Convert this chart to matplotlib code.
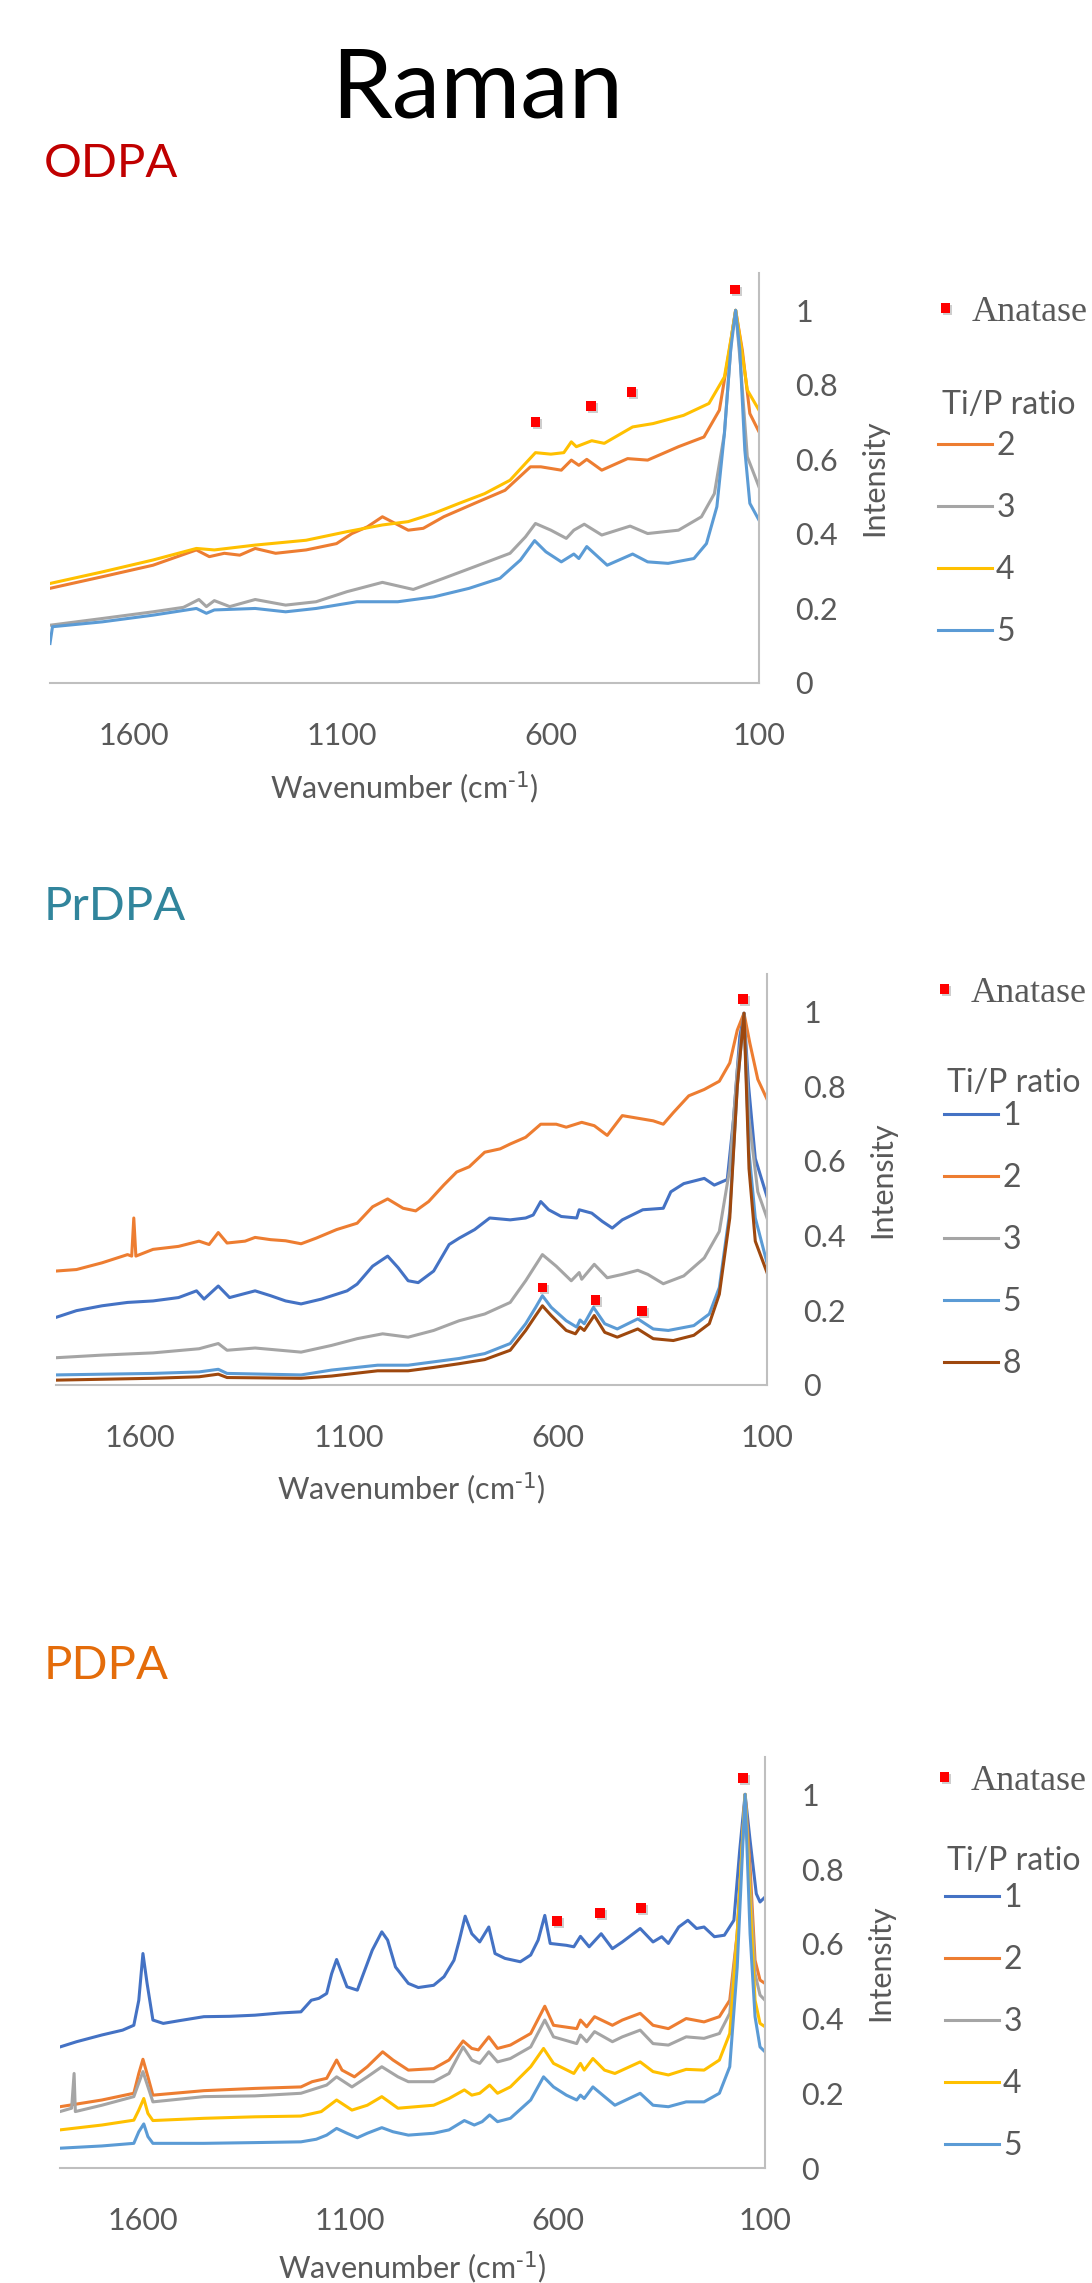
import matplotlib
matplotlib.use("Agg")
import matplotlib.pyplot as plt
import matplotlib.patheffects as pe

# ---------------- data ----------------
# x = Raman shift (cm-1), y = normalised intensity

# ODPA, Ti/P ratio 2, 3, 4, 5
odpa_2_wn = [1800, 1675, 1553, 1449, 1418, 1382, 1345, 1308, 1259, 1186, 1113, 1076, 1039, 1003, 972, 941, 905, 856,
             782, 709, 648, 623, 574, 550, 532, 513, 477, 415, 367, 293, 232, 195, 171, 156, 140, 122, 100]
odpa_2_int = [0.254, 0.285, 0.316, 0.357, 0.339, 0.348, 0.343, 0.361, 0.348, 0.357, 0.374, 0.401, 0.419, 0.446, 0.428,
              0.410, 0.415, 0.446, 0.482, 0.517, 0.580, 0.580, 0.571, 0.598, 0.584, 0.600, 0.571, 0.602, 0.598, 0.634,
              0.660, 0.732, 0.893, 1.0, 0.893, 0.723, 0.674]
odpa_3_wn = [1800, 1675, 1553, 1480, 1443, 1425, 1406, 1369, 1308, 1235, 1162, 1088, 1003, 929, 856, 782, 697, 660,
             636, 599, 562, 544, 519, 477, 409, 367, 293, 238, 207, 183, 165, 156, 144, 128, 100]
odpa_3_int = [0.155, 0.173, 0.191, 0.203, 0.224, 0.205, 0.221, 0.205, 0.224, 0.209, 0.218, 0.245, 0.270, 0.251, 0.281,
              0.312, 0.348, 0.392, 0.428, 0.410, 0.388, 0.410, 0.426, 0.397, 0.421, 0.401, 0.410, 0.446, 0.508, 0.669,
              0.937, 1.0, 0.848, 0.607, 0.526]
odpa_4_wn = [1800, 1675, 1553, 1449, 1406, 1308, 1186, 1088, 1003, 941, 880, 819, 758, 697, 660, 636, 599, 568, 550,
             538, 501, 471, 403, 354, 281, 220, 183, 165, 156, 146, 128, 100]
odpa_4_int = [0.267, 0.298, 0.330, 0.361, 0.357, 0.370, 0.383, 0.406, 0.424, 0.433, 0.455, 0.482, 0.508, 0.544, 0.589,
              0.618, 0.614, 0.618, 0.647, 0.634, 0.650, 0.643, 0.687, 0.696, 0.718, 0.750, 0.821, 0.937, 1.0, 0.929,
              0.786, 0.732]
odpa_5_wn = [1800, 1794, 1675, 1553, 1449, 1425, 1406, 1308, 1235, 1162, 1064, 966, 880, 795, 721, 672, 638, 611, 574,
             544, 532, 513, 464, 403, 367, 318, 256, 226, 201, 183, 168, 156, 146, 134, 122, 100]
odpa_5_int = [0.106, 0.151, 0.164, 0.182, 0.200, 0.187, 0.196, 0.200, 0.191, 0.200, 0.218, 0.218, 0.231, 0.254, 0.281,
              0.330, 0.382, 0.352, 0.325, 0.346, 0.334, 0.366, 0.316, 0.346, 0.325, 0.321, 0.334, 0.374, 0.473, 0.669,
              0.893, 1.0, 0.893, 0.625, 0.482, 0.437]
odpa_anatase_wn = [636, 503, 406, 157]
odpa_anatase_int = [0.70, 0.744, 0.781, 1.056]

# PrDPA, Ti/P ratio 1, 2, 3, 5, 8
prdpa_1_wn = [1800, 1751, 1690, 1629, 1568, 1507, 1464, 1446, 1412, 1385, 1324, 1287, 1251, 1214, 1165, 1104, 1080,
              1043, 1007, 982, 958, 934, 897, 860, 836, 799, 763, 714, 677, 659, 641, 622, 592, 555, 549, 519, 494,
              470, 446, 397, 348, 330, 299, 250, 226, 195, 180, 165, 155, 144, 128, 100]
prdpa_1_int = [0.181, 0.199, 0.212, 0.221, 0.225, 0.234, 0.252, 0.230, 0.265, 0.234, 0.252, 0.239, 0.225, 0.217, 0.230,
               0.252, 0.270, 0.318, 0.345, 0.314, 0.279, 0.274, 0.305, 0.376, 0.393, 0.416, 0.447, 0.442, 0.447, 0.455,
               0.491, 0.469, 0.451, 0.447, 0.469, 0.460, 0.438, 0.420, 0.442, 0.469, 0.473, 0.517, 0.539, 0.553, 0.535,
               0.550, 0.712, 0.933, 0.995, 0.800, 0.606, 0.504]
prdpa_2_wn = [1800, 1751, 1690, 1629, 1619, 1614, 1609, 1568, 1507, 1458, 1434, 1412, 1391, 1348, 1324, 1287, 1251,
              1214, 1178, 1129, 1080, 1043, 1007, 970, 940, 909, 873, 842, 812, 775, 738, 714, 677, 641, 604, 580, 543,
              513, 482, 446, 409, 372, 348, 324, 287, 250, 214, 189, 171, 155, 141, 122, 100]
prdpa_2_int = [0.305, 0.309, 0.327, 0.349, 0.345, 0.447, 0.345, 0.363, 0.371, 0.385, 0.376, 0.408, 0.380, 0.385, 0.395,
               0.389, 0.386, 0.378, 0.393, 0.416, 0.433, 0.477, 0.498, 0.473, 0.466, 0.491, 0.535, 0.570, 0.584, 0.623,
               0.632, 0.645, 0.663, 0.698, 0.698, 0.690, 0.703, 0.694, 0.668, 0.721, 0.714, 0.707, 0.698, 0.729, 0.774,
               0.791, 0.813, 0.862, 0.950, 0.995, 0.915, 0.818, 0.765]
prdpa_3_wn = [1800, 1690, 1568, 1458, 1412, 1391, 1324, 1214, 1141, 1080, 1019, 958, 897, 836, 775, 714, 677, 637, 604,
              568, 549, 543, 513, 482, 446, 409, 385, 348, 299, 250, 214, 189, 171, 155, 143, 122, 100]
prdpa_3_int = [0.073, 0.080, 0.086, 0.097, 0.111, 0.093, 0.099, 0.088, 0.106, 0.124, 0.137, 0.128, 0.146, 0.172, 0.190,
               0.221, 0.279, 0.349, 0.318, 0.279, 0.301, 0.283, 0.323, 0.287, 0.296, 0.307, 0.296, 0.271, 0.292, 0.340,
               0.411, 0.579, 0.844, 0.995, 0.712, 0.517, 0.447]
prdpa_5_wn = [1800, 1568, 1458, 1412, 1391, 1214, 1141, 1031, 958, 897, 836, 775, 714, 677, 653, 637, 616, 580, 555,
              547, 537, 515, 488, 458, 409, 372, 336, 275, 238, 214, 189, 171, 155, 143, 128, 100]
prdpa_5_int = [0.027, 0.031, 0.035, 0.042, 0.031, 0.027, 0.040, 0.053, 0.053, 0.062, 0.071, 0.084, 0.111, 0.164, 0.208,
               0.239, 0.208, 0.172, 0.155, 0.174, 0.164, 0.208, 0.164, 0.150, 0.177, 0.150, 0.146, 0.159, 0.190, 0.261,
               0.464, 0.800, 0.995, 0.623, 0.447, 0.327]
prdpa_8_wn = [1800, 1568, 1458, 1412, 1391, 1214, 1141, 1031, 958, 897, 836, 775, 714, 677, 653, 637, 616, 580, 558,
              547, 537, 513, 488, 458, 409, 372, 324, 275, 238, 214, 189, 171, 155, 143, 128, 100]
prdpa_8_int = [0.013, 0.018, 0.022, 0.029, 0.020, 0.018, 0.024, 0.038, 0.038, 0.047, 0.057, 0.068, 0.093, 0.146, 0.186,
               0.212, 0.186, 0.146, 0.137, 0.155, 0.146, 0.186, 0.141, 0.128, 0.150, 0.124, 0.119, 0.133, 0.164, 0.243,
               0.447, 0.800, 0.995, 0.579, 0.385, 0.301]
prdpa_anatase_wn = [637, 510, 399, 158]
prdpa_anatase_int = [0.261, 0.228, 0.199, 1.034]

# PDPA, Ti/P ratio 1, 2, 3, 4, 5
pdpa_1_wn = [1800, 1760, 1699, 1649, 1622, 1610, 1600, 1590, 1576, 1551, 1514, 1453, 1391, 1330, 1268, 1219, 1194,
             1176, 1157, 1145, 1133, 1120, 1108, 1083, 1071, 1047, 1024, 1010, 991, 960, 936, 899, 874, 850, 837, 823,
             807, 788, 766, 751, 727, 690, 665, 647, 631, 618, 579, 561, 545, 524, 495, 468, 444, 401, 370, 349, 333,
             308, 286, 265, 247, 222, 198, 175, 161, 148, 136, 121, 112, 100]
pdpa_1_int = [0.324, 0.338, 0.356, 0.369, 0.382, 0.449, 0.574, 0.494, 0.396, 0.387, 0.394, 0.405, 0.406, 0.409, 0.415,
              0.418, 0.449, 0.454, 0.467, 0.520, 0.558, 0.520, 0.485, 0.476, 0.512, 0.583, 0.632, 0.610, 0.538, 0.494,
              0.483, 0.489, 0.512, 0.556, 0.610, 0.674, 0.627, 0.605, 0.645, 0.574, 0.561, 0.552, 0.570, 0.610, 0.676,
              0.601, 0.596, 0.592, 0.620, 0.592, 0.627, 0.587, 0.605, 0.641, 0.605, 0.619, 0.601, 0.645, 0.663, 0.641,
              0.645, 0.619, 0.623, 0.663, 0.850, 1.0, 0.877, 0.734, 0.712, 0.725]
pdpa_2_wn = [1800, 1699, 1622, 1610, 1600, 1588, 1576, 1453, 1330, 1219, 1192, 1157, 1133, 1120, 1090, 1059, 1022, 997,
             960, 899, 862, 828, 807, 791, 766, 745, 714, 665, 631, 610, 554, 545, 530, 511, 468, 444, 401, 370, 333,
             290, 247, 210, 185, 167, 148, 136, 124, 112, 100]
pdpa_2_int = [0.164, 0.182, 0.200, 0.253, 0.291, 0.244, 0.195, 0.207, 0.213, 0.217, 0.231, 0.240, 0.289, 0.262, 0.244,
              0.271, 0.311, 0.289, 0.262, 0.266, 0.289, 0.340, 0.320, 0.316, 0.351, 0.320, 0.329, 0.360, 0.433, 0.382,
              0.373, 0.396, 0.378, 0.405, 0.382, 0.396, 0.414, 0.382, 0.373, 0.400, 0.391, 0.405, 0.449, 0.627, 1.0,
              0.806, 0.556, 0.503, 0.494]
pdpa_3_wn = [1800, 1772, 1766, 1763, 1699, 1622, 1600, 1576, 1453, 1330, 1219, 1157, 1133, 1096, 1059, 1024, 985, 960,
             899, 862, 828, 807, 788, 766, 745, 714, 665, 631, 610, 554, 545, 530, 511, 468, 444, 401, 370, 333, 290,
             247, 210, 185, 167, 148, 136, 124, 112, 100]
pdpa_3_int = [0.151, 0.160, 0.253, 0.151, 0.168, 0.191, 0.258, 0.177, 0.191, 0.193, 0.200, 0.222, 0.244, 0.217, 0.244,
              0.271, 0.244, 0.231, 0.231, 0.253, 0.324, 0.289, 0.280, 0.311, 0.284, 0.293, 0.324, 0.396, 0.351, 0.333,
              0.356, 0.338, 0.365, 0.338, 0.351, 0.369, 0.333, 0.329, 0.351, 0.347, 0.360, 0.414, 0.627, 1.0, 0.761,
              0.520, 0.463, 0.449]
pdpa_4_wn = [1800, 1699, 1622, 1610, 1598, 1588, 1576, 1453, 1330, 1219, 1170, 1133, 1096, 1059, 1024, 985, 899, 862,
             825, 807, 788, 764, 745, 714, 665, 634, 610, 561, 545, 536, 515, 487, 462, 401, 370, 333, 290, 247, 210,
             185, 167, 148, 136, 124, 112, 100]
pdpa_4_int = [0.102, 0.115, 0.128, 0.155, 0.186, 0.146, 0.127, 0.133, 0.137, 0.139, 0.151, 0.182, 0.155, 0.168, 0.191,
              0.160, 0.168, 0.186, 0.209, 0.195, 0.200, 0.222, 0.200, 0.217, 0.271, 0.320, 0.280, 0.253, 0.280, 0.262,
              0.293, 0.262, 0.253, 0.284, 0.258, 0.249, 0.264, 0.262, 0.289, 0.360, 0.627, 1.0, 0.717, 0.449, 0.387,
              0.378]
pdpa_5_wn = [1800, 1699, 1622, 1610, 1598, 1588, 1576, 1453, 1330, 1219, 1182, 1157, 1133, 1108, 1083, 1059, 1024, 997,
             960, 899, 862, 825, 801, 782, 764, 745, 714, 665, 634, 610, 579, 554, 545, 536, 515, 487, 462, 401, 370,
             333, 290, 247, 210, 185, 167, 148, 136, 124, 112, 100]
pdpa_5_int = [0.053, 0.059, 0.066, 0.097, 0.118, 0.084, 0.066, 0.066, 0.068, 0.070, 0.077, 0.088, 0.106, 0.093, 0.081,
              0.093, 0.108, 0.097, 0.088, 0.093, 0.102, 0.127, 0.115, 0.124, 0.142, 0.124, 0.133, 0.182, 0.244, 0.217,
              0.195, 0.182, 0.195, 0.186, 0.217, 0.191, 0.168, 0.200, 0.168, 0.164, 0.177, 0.177, 0.200, 0.271, 0.538,
              1.0, 0.627, 0.405, 0.324, 0.311]
pdpa_anatase_wn = [601, 498, 399, 153]
pdpa_anatase_int = [0.661, 0.683, 0.696, 1.044]

x_ticks = [1600, 1100, 600, 100]
y_ticks = [0, 0.2, 0.4, 0.6, 0.8, 1]
y_tick_labels = ['0', '0.2', '0.4', '0.6', '0.8', '1']

# ---------------- style ----------------
W, H = 1092, 2283
TXT = '#595959'
AXC = '#BFBFBF'
ratio_colors = {'1': '#4472C4', '2': '#ED7D31', '3': '#A5A5A5', '4': '#FFC000', '5': '#5B9BD5', '8': '#9E480E'}

plt.rcParams['font.family'] = ['Lato', 'DejaVu Sans']
plt.rcParams['mathtext.default'] = 'regular'

fig = plt.figure(figsize=(W / 100, H / 100), dpi=100)


def fx(x):
    return x / W


def fy(y):
    return 1 - y / H


def draw_panel(box, series, anatase, name, name_color, name_base, anatase_xy, ratio_base, ratio_x, entries_x,
               entries_mid, xlab_base):
    left, top, right, bottom = box
    ax = fig.add_axes([fx(left), fy(bottom), (right - left) / W, (bottom - top) / H])

    lines = []
    for lab, wn, inten in series:
        ln, = ax.plot(wn, inten, color=ratio_colors[lab], lw=2.2, label=lab, solid_joinstyle='round')
        lines.append(ln)

    # anatase reference peaks
    shadow = [pe.SimplePatchShadow(offset=(1.5, -1.5), shadow_rgbFace='0.45', alpha=0.35), pe.Normal()]
    mk, = ax.plot(anatase[0], anatase[1], 's', color='#FF0000', ms=7, mew=0, label='Anatase',
                  path_effects=shadow, clip_on=False, zorder=5)

    ax.set_xlim(1800, 100)
    ax.set_ylim(0, 1.1)
    ax.set_xticks(x_ticks)
    ax.set_yticks(y_ticks)
    ax.set_yticklabels(y_tick_labels)
    ax.yaxis.tick_right()
    ax.tick_params(length=0, labelsize=22, labelcolor=TXT)
    ax.tick_params(axis='x', pad=28)
    ax.tick_params(axis='y', pad=26)
    for s in ['top', 'left']:
        ax.spines[s].set_visible(False)
    for s in ['right', 'bottom']:
        ax.spines[s].set_color(AXC)
        ax.spines[s].set_linewidth(1.5)

    h_px = bottom - top
    w_px = right - left
    ax.text(1 + 115 / w_px, 0.5, 'Intensity', transform=ax.transAxes, rotation=90,
            ha='center', va='center', fontsize=22, color=TXT)
    ax.text(0.5, -(xlab_base - bottom) / h_px, r'Wavenumber (cm$^{\text{-1}}$)', transform=ax.transAxes,
            ha='center', va='baseline', fontsize=22, color=TXT)

    # legends
    leg1 = ax.legend(handles=[mk], loc='center left', bbox_to_anchor=(fx(anatase_xy[0] - 15), fy(anatase_xy[1])),
                     bbox_transform=fig.transFigure, frameon=False, borderpad=0, borderaxespad=0,
                     handlelength=0.8, handletextpad=0.32,
                     prop={'family': 'Liberation Serif', 'size': 26}, labelcolor=TXT)
    ax.add_artist(leg1)
    ax.legend(handles=lines, loc='center left', bbox_to_anchor=(fx(entries_x), fy(entries_mid)),
              bbox_transform=fig.transFigure, frameon=False, borderpad=0, borderaxespad=0,
              handlelength=1.7, handletextpad=0.12, labelspacing=1.0, fontsize=23, labelcolor=TXT)
    fig.text(fx(ratio_x), fy(ratio_base), 'Ti/P ratio', fontsize=23, color=TXT, va='baseline')

    fig.text(fx(44), fy(name_base), name, fontsize=34, color=name_color, va='baseline')
    return ax


fig.text(fx(477), fy(117), 'Raman', ha='center', va='baseline', fontsize=70, color='black')

draw_panel((50, 273, 759, 683),
           [('2', odpa_2_wn, odpa_2_int), ('3', odpa_3_wn, odpa_3_int),
            ('4', odpa_4_wn, odpa_4_int), ('5', odpa_5_wn, odpa_5_int)],
           (odpa_anatase_wn, odpa_anatase_int), 'ODPA', '#C00000', 177,
           (946, 312), 414, 942, 938, 539, 798)

draw_panel((56, 974, 767, 1385),
           [('1', prdpa_1_wn, prdpa_1_int), ('2', prdpa_2_wn, prdpa_2_int), ('3', prdpa_3_wn, prdpa_3_int),
            ('5', prdpa_5_wn, prdpa_5_int), ('8', prdpa_8_wn, prdpa_8_int)],
           (prdpa_anatase_wn, prdpa_anatase_int), 'PrDPA', '#31859C', 920,
           (945, 993), 1092, 947, 944, 1240, 1499)

draw_panel((60, 1757, 765, 2168),
           [('1', pdpa_1_wn, pdpa_1_int), ('2', pdpa_2_wn, pdpa_2_int), ('3', pdpa_3_wn, pdpa_3_int),
            ('4', pdpa_4_wn, pdpa_4_int), ('5', pdpa_5_wn, pdpa_5_int)],
           (pdpa_anatase_wn, pdpa_anatase_int), 'PDPA', '#E46C0A', 1679,
           (945, 1781), 1870, 947, 945, 2022, 2278)

fig.savefig('out.png', dpi=100)
